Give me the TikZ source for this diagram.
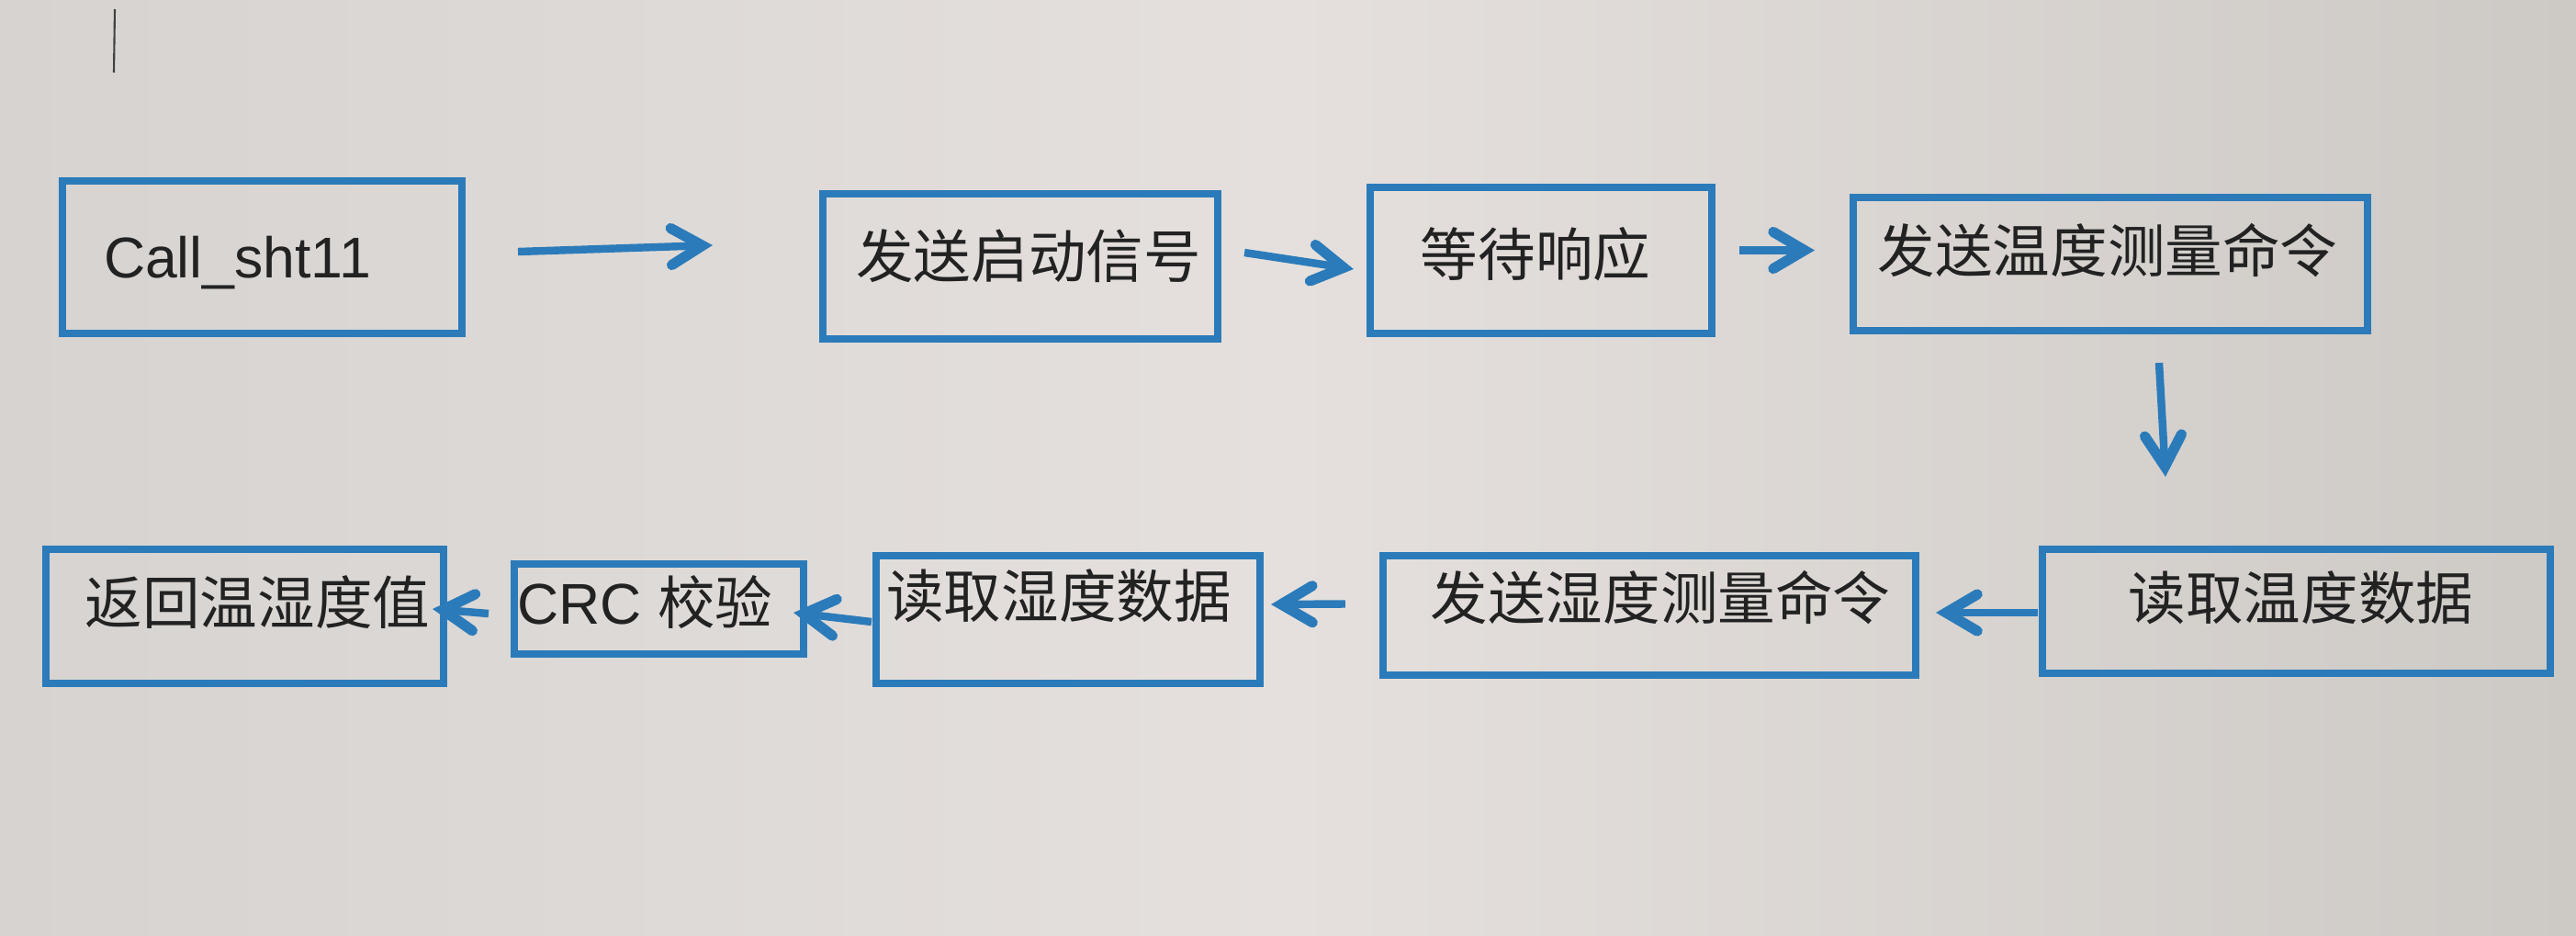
\documentclass[tikz,border=0pt]{standalone}
\usepackage{fontspec}
\setmainfont{Liberation Sans}
\newfontfamily\cjk{Noto Sans CJK SC}
\usetikzlibrary{arrows.meta,calc}
\definecolor{bgl}{HTML}{D6D3D0}
\definecolor{bgm}{HTML}{E5E0DD}
\definecolor{bgr}{HTML}{CDC9C5}
\definecolor{boxblue}{HTML}{2B7BBA}
\definecolor{txt}{HTML}{222222}
\tikzset{
  stepbox/.style={draw=boxblue, line width=2.3pt, rectangle, inner sep=0pt},
  lbl/.style={inner sep=0pt, text=txt, text height=1.1em, text depth=0pt,
              font=\fontsize{17.8pt}{20pt}\selectfont},
  arr/.style={draw=boxblue, line width=2.4pt,
              -{Straight Barb[length=0.34cm, width=0.40cm, line width=3.2pt,
                line cap=round, line join=miter]}},
  cursorline/.style={draw=black!75, line width=0.6pt}
}
\begin{document}
\begin{tikzpicture}
\useasboundingbox (0,0) rectangle (28.05,-10.19);
\shade[left color=bgl, right color=bgr, middle color=bgm] (0,0) rectangle (28.05,-10.19);
\coordinate (c1) at (1.25,-0.10);
\coordinate (c2) at (1.24,-0.79);
\draw[cursorline] (c1) -- (c2);

% boxes
\node[stepbox, minimum width=4.35cm, minimum height=1.66cm] (b1) at (2.855,-2.80) {};
\node[stepbox, minimum width=4.30cm, minimum height=1.58cm] (b2) at (11.11,-2.90) {};
\node[stepbox, minimum width=3.72cm, minimum height=1.59cm] (b3) at (16.78,-2.835) {};
\node[stepbox, minimum width=5.60cm, minimum height=1.45cm] (b4) at (22.98,-2.875) {};
\node[stepbox, minimum width=5.53cm, minimum height=1.35cm] (b5) at (25.005,-6.655) {};
\node[stepbox, minimum width=5.80cm, minimum height=1.30cm] (b6) at (17.96,-6.70) {};
\node[stepbox, minimum width=4.18cm, minimum height=1.39cm] (b7) at (11.63,-6.745) {};
\node[stepbox, minimum width=3.15cm, minimum height=0.98cm] (b8) at (7.175,-6.63) {};
\node[stepbox, minimum width=4.33cm, minimum height=1.46cm] (b9) at (2.665,-6.71) {};

% texts
\node[lbl] (t1) at ($(b1)+(-0.27,-0.03)$) {Call\_sht11};
\node[lbl] (t2) at ($(b2)+(0.09,0.07)$) {\cjk 发送启动信号};
\node[lbl] (t3) at ($(b3)+(-0.06,0.02)$) {\cjk 等待响应};
\node[lbl] (t4) at ($(b4)+(-0.03,0.10)$) {\cjk 发送温度测量命令};
\node[lbl] (t5) at ($(b5)+(0.05,0.10)$) {\cjk 读取温度数据};
\node[lbl] (t6) at ($(b6)+(0.12,0.15)$) {\cjk 发送湿度测量命令};
\node[lbl] (t7) at ($(b7)+(-0.10,0.21)$) {\cjk 读取湿度数据};
\node[lbl] (t8) at ($(b8)+(-0.15,0.03)$) {CRC {\cjk 校验}};
\node[lbl] (t9) at ($(b9)+(0.14,0.11)$) {\cjk 返回温湿度值};

% connectors
\draw[arr] ($(b1.east)+(0.57,0.06)$) -- ($(b2.west)+(-1.16,0.23)$);
\draw[arr] ($(b2.east)+(0.25,0.15)$) -- ($(b3.west)+(-0.14,-0.095)$);
\draw[arr] ($(b3.east)+(0.26,0.11)$) -- ($(b4.west)+(-0.38,0.15)$);
\draw[arr] ($(b4.south)+(0.53,-0.31)$) -- ($(b5.north)+(-1.425,0.75)$);
\draw[arr] ($(b5.west)+(-0.01,-0.015)$) -- ($(b6.east)+(0.18,0.03)$);
\draw[arr] ($(b6.west)+(-0.37,0.125)$) -- ($(b7.east)+(0.08,0.165)$);
\draw[arr] ($(b7.west)+(-0.01,-0.025)$) -- ($(b8.east)+(-0.15,-0.04)$);
\draw[arr] ($(b8.west)+(-0.24,-0.05)$) -- ($(b9.east)+(-0.16,0.08)$);
\end{tikzpicture}
\end{document}
